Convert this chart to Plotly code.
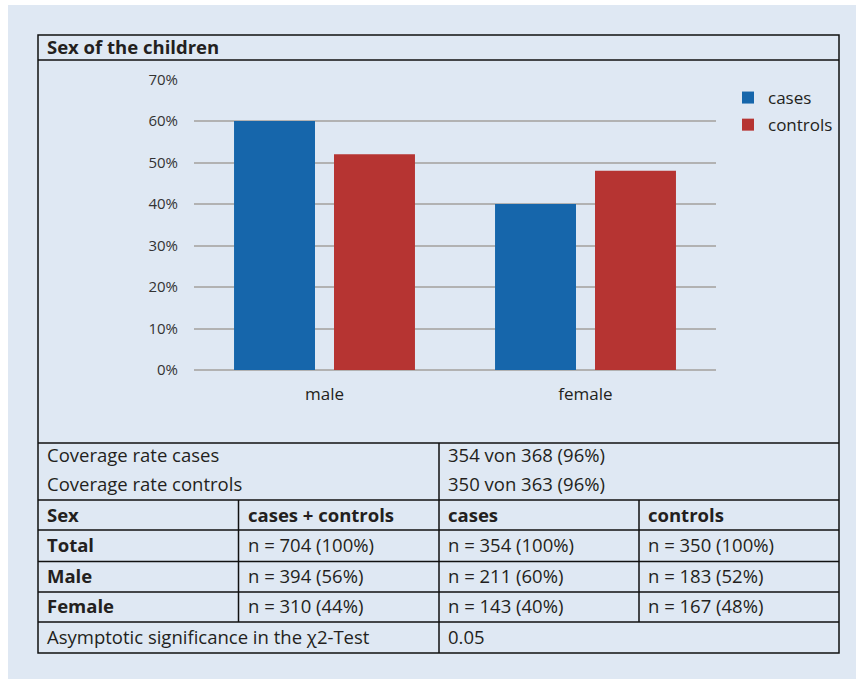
import plotly.graph_objects as go

W, H = 856, 679

categories = ["male", "female"]
cases = [60, 40]
controls = [52, 48]
y_ticks = [0, 10, 20, 30, 40, 50, 60, 70]
y_tick_labels = ["0%", "10%", "20%", "30%", "40%", "50%", "60%", "70%"]

title_text = "Sex of the children"
coverage_labels = ["Coverage rate cases", "Coverage rate controls"]
coverage_values = ["354 von 368 (96%)", "350 von 363 (96%)"]
table_header = ["Sex", "cases + controls", "cases", "controls"]
row_labels = ["Total", "Male", "Female"]
col_total = ["n = 704 (100%)", "n = 394 (56%)", "n = 310 (44%)"]
col_cases = ["n = 354 (100%)", "n = 211 (60%)", "n = 143 (40%)"]
col_controls = ["n = 350 (100%)", "n = 183 (52%)", "n = 167 (48%)"]
chi_label = "Asymptotic significance in the χ2-Test"
chi_value = "0.05"

FONT = "Open Sans"
BG = "#dfe8f3"
BLUE = "#1666ab"
RED = "#b63432"
TXT = "#231f20"


def px(x):
    return x / W


def py(y):
    return 1 - y / H


fig = go.Figure()
fig.add_trace(go.Bar(x=categories, y=cases, name="cases", marker_color=BLUE,
                     marker_line_width=0, legendgroup="a"))
fig.add_trace(go.Bar(x=categories, y=controls, name="controls", marker_color=RED,
                     marker_line_width=0, legendgroup="b"))

shapes = []
shapes.append(dict(type="rect", xref="paper", yref="paper", x0=px(8), x1=px(856),
                   y0=py(679), y1=py(5), fillcolor=BG, line_width=0, layer="below"))

LW = 1.5
LC = "#111111"


def hline(y, x0=38, x1=839):
    shapes.append(dict(type="line", xref="paper", yref="paper", x0=px(x0), x1=px(x1),
                       y0=py(y), y1=py(y), line=dict(color=LC, width=LW)))


def vline(x, y0, y1):
    shapes.append(dict(type="line", xref="paper", yref="paper", x0=px(x), x1=px(x),
                       y0=py(y0), y1=py(y1), line=dict(color=LC, width=LW)))


shapes.append(dict(type="rect", xref="paper", yref="paper", x0=px(38), x1=px(839),
                   y0=py(653), y1=py(35), line=dict(color=LC, width=LW)))
for yy in [60, 443, 500, 530, 561.5, 592, 622]:
    hline(yy)
vline(439, 443, 653)
vline(238.5, 500, 622)
vline(639, 500, 622)

annotations = []


def txt(x, y, s, bold=False, size=18.5):
    annotations.append(dict(xref="paper", yref="paper", x=px(x), y=py(y), text=s,
                            showarrow=False, xanchor="left", yanchor="middle",
                            font=dict(family=FONT, size=size, color=TXT,
                                      weight="bold" if bold else "normal")))


txt(45, 47, title_text, bold=True, size=18.5)
for i, (lab, val) in enumerate(zip(coverage_labels, coverage_values)):
    yy = 455 + i * 28
    txt(45, yy, lab)
    txt(446, yy, val)
col_x = [45, 246, 446, 646]
for xx, h in zip(col_x, table_header):
    txt(xx, 514, h, bold=True)
row_y = [544, 575, 605]
for i, yy in enumerate(row_y):
    txt(col_x[0], yy, row_labels[i], bold=True)
    txt(col_x[1], yy, col_total[i])
    txt(col_x[2], yy, col_cases[i])
    txt(col_x[3], yy, col_controls[i])
txt(45, 636, chi_label)
txt(446, 636, chi_value)

fig.update_layout(
    width=W, height=H,
    margin=dict(l=0, r=0, t=0, b=0, pad=0, autoexpand=False),
    paper_bgcolor="white", plot_bgcolor="rgba(0,0,0,0)",
    barmode="group", bargap=0.234, bargroupgap=0.19,
    shapes=shapes, annotations=annotations,
    showlegend=True,
    legend=dict(x=px(728), y=py(80), xanchor="left", yanchor="top",
                bgcolor="rgba(0,0,0,0)", font=dict(family=FONT, size=17, color=TXT),
                tracegroupgap=2, traceorder="grouped"),
    font=dict(family=FONT, color=TXT, size=15),
    xaxis=dict(domain=[px(194), px(716)], showgrid=False, showline=False,
               automargin=False,
               ticks="outside", ticklen=9, tickcolor="rgba(0,0,0,0)",
               tickfont=dict(family=FONT, size=17, color=TXT)),
    yaxis=dict(domain=[py(370), py(79.5)], range=[0, 70], tickmode="array",
               tickvals=y_ticks, ticktext=y_tick_labels, automargin=False,
               showgrid=True, gridcolor="#b2b2b2", gridwidth=1.5,
               zeroline=True, zerolinecolor="#b2b2b2", zerolinewidth=1.5,
               showline=False, ticks="outside", ticklen=12,
               tickcolor="rgba(0,0,0,0)",
               tickfont=dict(family=FONT, size=15, color="#333333")),
)

fig.write_html("out.html")
